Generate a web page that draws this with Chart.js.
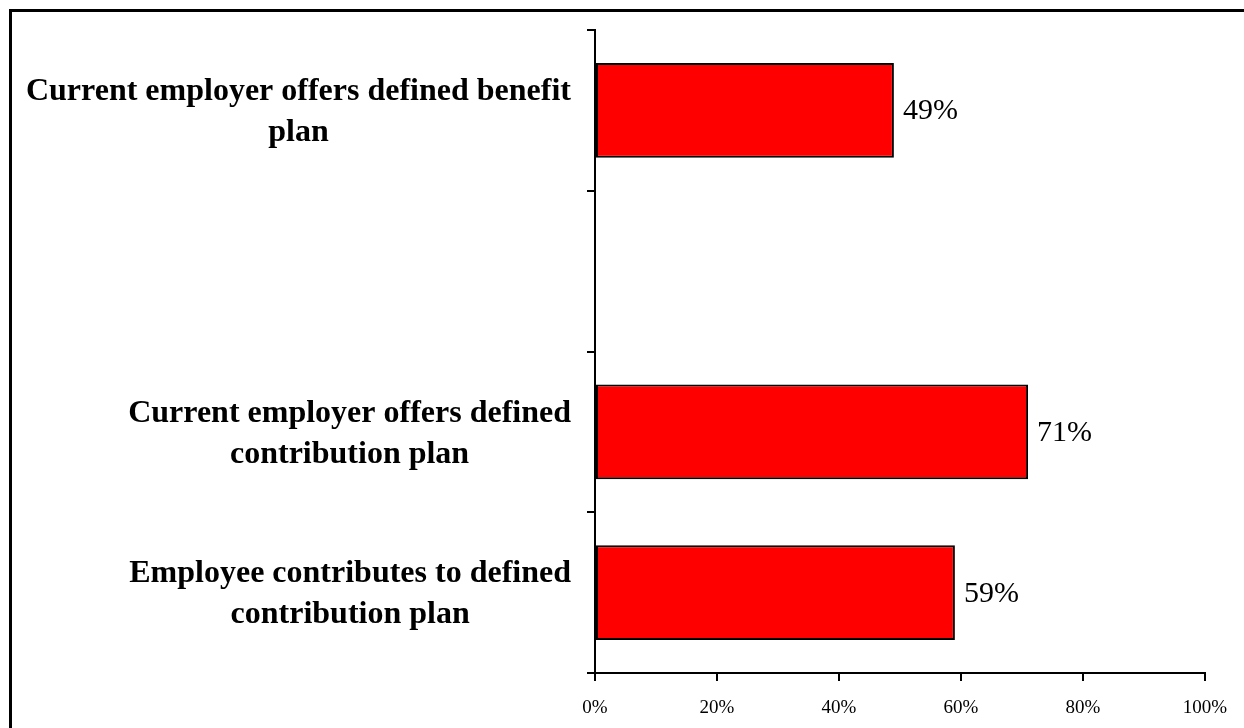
<!DOCTYPE html>
<html>
<head>
<meta charset="utf-8">
<script src="https://cdn.jsdelivr.net/npm/chart.js@4/dist/chart.umd.min.js"></script>
<style>
  html, body { margin: 0; padding: 0; background: #fff; }
  #wrap { width: 1244px; height: 728px; position: relative; }
</style>
</head>
<body>
<div id="wrap"><canvas id="planChart"></canvas></div>
<script>
// categories (one empty slot between the first and second bar)
const categories = [
  ["Current employer offers defined benefit", "plan"],
  [""],
  ["Current employer offers defined", "contribution plan"],
  ["Employee contributes to defined", "contribution plan"],
];
const shares = [49, null, 71, 59];
const xTicks = [0, 20, 40, 60, 80, 100];

const serif = '"Liberation Serif", "Times New Roman", serif';

// draws the centred, right-hugging category labels next to the axis
const categoryLabels = {
  id: "categoryLabels",
  afterDraw(chart) {
    const ctx = chart.ctx;
    const yScale = chart.scales.y;
    const right = chart.chartArea.left - 24;
    const lineGap = 41;
    ctx.save();
    ctx.font = "bold 32px " + serif;
    ctx.fillStyle = "#000";
    ctx.textAlign = "center";
    ctx.textBaseline = "middle";
    categories.forEach((lines, i) => {
      const w = Math.max(...lines.map((l) => ctx.measureText(l).width));
      const cx = right - w / 2;
      const cy = yScale.getPixelForValue(i) + 2;
      const top = cy - ((lines.length - 1) * lineGap) / 2;
      lines.forEach((l, j) => ctx.fillText(l, cx, top + j * lineGap));
    });
    ctx.restore();
  },
};

// value labels to the right of each bar
const valueLabels = {
  id: "valueLabels",
  afterDatasetsDraw(chart) {
    const ctx = chart.ctx;
    const meta = chart.getDatasetMeta(0);
    ctx.save();
    ctx.font = "30px " + serif;
    ctx.fillStyle = "#000";
    ctx.textAlign = "left";
    ctx.textBaseline = "middle";
    meta.data.forEach((bar, i) => {
      if (shares[i] == null) return;
      ctx.fillText(shares[i] + "%", bar.x + 9, bar.y + 1);
    });
    ctx.restore();
  },
};

// outer frame (only top and left edges fall inside the picture)
const frame = {
  id: "frame",
  afterDraw(chart) {
    const ctx = chart.ctx;
    ctx.save();
    ctx.strokeStyle = "#000";
    ctx.lineWidth = 3;
    ctx.strokeRect(10.5, 10.5, 2000, 2000);
    ctx.restore();
  },
};

const ctx = document.getElementById("planChart").getContext("2d");
const planChart = new Chart(ctx, {
  type: "bar",
  data: {
    labels: categories,
    datasets: [
      {
        data: shares,
        backgroundColor: "#ff0000",
        borderColor: "#000",
        borderWidth: 2,
        borderSkipped: false,
        categoryPercentage: 1,
        barPercentage: 0.59,
      },
    ],
  },
  options: {
    indexAxis: "y",
    responsive: true,
    maintainAspectRatio: false,
    animation: false,
    layout: {
      padding: { top: 30, right: 39, left: 0, bottom: 0 },
    },
    plugins: {
      legend: { display: false },
      tooltip: { enabled: false },
    },
    scales: {
      x: {
        min: 0,
        max: 100,
        afterBuildTicks(scale) {
          scale.ticks = xTicks.map((v) => ({ value: v }));
        },
        afterFit(scale) {
          scale.height = 55;
        },
        grid: {
          drawOnChartArea: false,
          drawTicks: true,
          tickLength: 8,
          color: "#000",
          lineWidth: 2,
        },
        border: { display: true, color: "#000", width: 2 },
        ticks: {
          padding: 16,
          color: "#000",
          font: { family: serif, size: 19 },
          callback: (v) => v + "%",
        },
      },
      y: {
        afterFit(scale) {
          scale.width = 595;
        },
        grid: {
          drawOnChartArea: false,
          drawTicks: true,
          tickLength: 8,
          color: "#000",
          lineWidth: 2,
          offset: true,
        },
        border: { display: true, color: "#000", width: 2 },
        ticks: { display: false },
      },
    },
  },
  plugins: [categoryLabels, valueLabels, frame],
});
</script>
</body>
</html>
